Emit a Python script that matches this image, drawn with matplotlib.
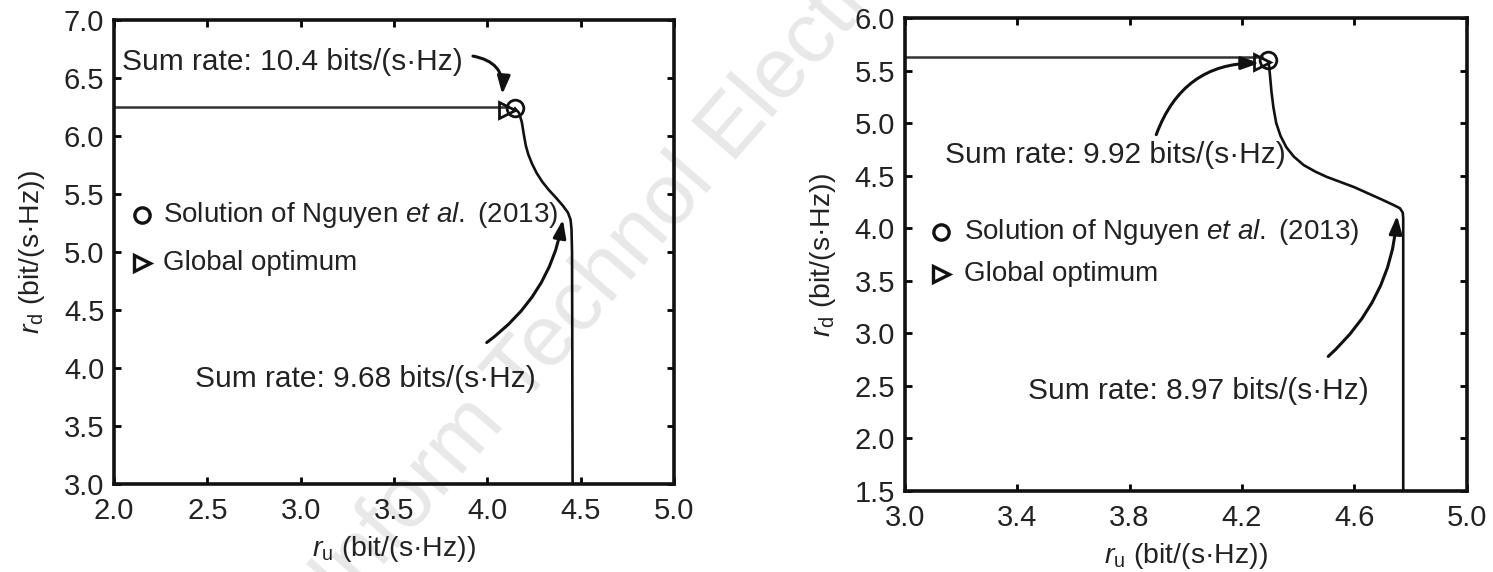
import matplotlib
matplotlib.use("Agg")
import matplotlib.pyplot as plt
import numpy as np

plt.rcParams['font.family'] = ['Liberation Sans', 'DejaVu Sans']
plt.rcParams['mathtext.fontset'] = 'custom'
plt.rcParams['mathtext.rm'] = 'Liberation Sans'
plt.rcParams['mathtext.it'] = 'Liberation Sans:italic'

# left panel data
left_curve_x = [4.148, 4.170, 4.185, 4.195, 4.206, 4.220, 4.240, 4.265, 4.295, 4.330,
                4.370, 4.405, 4.432, 4.446, 4.451, 4.454, 4.457]
left_curve_y = [6.239, 6.200, 6.120, 6.020, 5.920, 5.840, 5.760, 5.680, 5.605, 5.535,
                5.465, 5.400, 5.340, 5.280, 5.200, 5.000, 3.000]
left_hline_y = 6.25
left_circle = (4.148, 6.239)
left_tri = (4.103, 6.228)
left_xticks = [2.0, 2.5, 3.0, 3.5, 4.0, 4.5, 5.0]
left_yticks = [3.0, 3.5, 4.0, 4.5, 5.0, 5.5, 6.0, 6.5, 7.0]

# right panel data
right_curve_x = [4.295, 4.300, 4.305, 4.312, 4.322, 4.337, 4.358, 4.385, 4.420, 4.460,
                 4.500, 4.550, 4.600, 4.650, 4.700, 4.740, 4.762, 4.772, 4.774, 4.774]
right_curve_y = [5.580, 5.450, 5.300, 5.150, 5.000, 4.880, 4.770, 4.680, 4.600, 4.540,
                 4.490, 4.440, 4.390, 4.330, 4.270, 4.220, 4.190, 4.150, 4.100, 1.500]
right_hline_y = 5.632
right_circle = (4.293, 5.60)
right_tri = (4.27, 5.58)
right_xticks = [3.0, 3.4, 3.8, 4.2, 4.6, 5.0]
right_yticks = [1.5, 2.0, 2.5, 3.0, 3.5, 4.0, 4.5, 5.0, 5.5, 6.0]

txt_col = '#222222'
tick_fs = 21
ann_fs = 21.5
leg_fs = 20
lab_fs = 20.5

fig = plt.figure(figsize=(14.93, 5.72), dpi=100)

# faint watermark behind everything
fig.text(0.409, 0.526, 'Front Inform Technol Electron Eng', fontsize=62, color='#e8e8e8',
         rotation=49, ha='center', va='center', zorder=-1)

ax1 = fig.add_axes([0.0764, 0.1538, 0.375, 0.811])
ax2 = fig.add_axes([0.606, 0.1416, 0.3764, 0.827])
for a in (ax1, ax2):
    a.patch.set_alpha(0)


def style(ax, xt, yt):
    ax.set_xlim(xt[0], xt[-1])
    ax.set_ylim(yt[0], yt[-1])
    ax.set_xticks(xt)
    ax.set_yticks(yt)
    ax.set_xticklabels(['%.1f' % v for v in xt])
    ax.set_yticklabels(['%.1f' % v for v in yt])
    ax.tick_params(direction='in', top=True, right=True, length=5, width=2,
                   labelsize=tick_fs, labelcolor=txt_col)
    ax.tick_params(axis='x', pad=9)
    ax.tick_params(axis='y', pad=7)
    for s in ax.spines.values():
        s.set_linewidth(2.6)
        s.set_color('#111111')
    ax.set_xlabel(r'$r_\mathrm{u}$ (bit/(s·Hz))', fontsize=lab_fs, color=txt_col, labelpad=7)
    ax.set_ylabel(r'$r_\mathrm{d}$ (bit/(s·Hz))', fontsize=lab_fs, color=txt_col, labelpad=12)


def panel(ax, cx, cy, hy, circ, tri, leg_x, leg_y1, leg_y2, txt_x, texts):
    ax.plot(cx, cy, color='#111111', lw=1.9)
    ax.plot([ax.get_xlim()[0], tri[0]], [hy, hy], color='#333333', lw=1.8)
    ax.plot(*circ, marker='o', ms=12, mfc='none', mec='#111111', mew=2)
    ax.plot(*tri, marker='>', ms=11, mfc='none', mec='#111111', mew=2)
    ax.plot(leg_x, leg_y1, marker='o', ms=11, mfc='none', mec='#111111', mew=2.4)
    ax.plot(leg_x, leg_y2, marker='>', ms=11, mfc='none', mec='#111111', mew=2.4)
    ax.text(txt_x, leg_y1, r'Solution of Nguyen $\mathit{et\ al.}$ (2013)', fontsize=leg_fs,
            color=txt_col, va='center')
    ax.text(txt_x, leg_y2, 'Global optimum', fontsize=leg_fs, color=txt_col, va='center')
    for (s, tx, ty, x0, y0, x1, y1, rad) in texts:
        ax.text(tx, ty, s, fontsize=ann_fs, color=txt_col, va='center')
        ax.annotate('', xy=(x1, y1), xytext=(x0, y0),
                    arrowprops=dict(arrowstyle='-|>,head_length=0.9,head_width=0.32',
                                    color='#111111', lw=2.2, mutation_scale=12,
                                    connectionstyle='arc3,rad=%s' % rad,
                                    shrinkA=0, shrinkB=0))


style(ax1, left_xticks, left_yticks)
panel(ax1, left_curve_x, left_curve_y, left_hline_y, left_circle, left_tri,
      2.15, 5.32, 4.91, 2.263,
      [('Sum rate: 10.4 bits/(s·Hz)', 2.042, 6.64, 3.923, 6.69, 4.08, 6.36, -0.45),
       ('Sum rate: 9.68 bits/(s·Hz)', 2.435, 3.906, 3.997, 4.22, 4.405, 5.28, 0.2)])

style(ax2, right_xticks, right_yticks)
panel(ax2, right_curve_x, right_curve_y, right_hline_y, right_circle, right_tri,
      3.128, 3.96, 3.56, 3.21,
      [('Sum rate: 9.92 bits/(s·Hz)', 3.144, 4.70, 3.895, 4.89, 4.262, 5.57, -0.35),
       ('Sum rate: 8.97 bits/(s·Hz)', 3.44, 2.45, 4.507, 2.78, 4.752, 4.12, 0.2)])

fig.savefig('out.png', dpi=100)
